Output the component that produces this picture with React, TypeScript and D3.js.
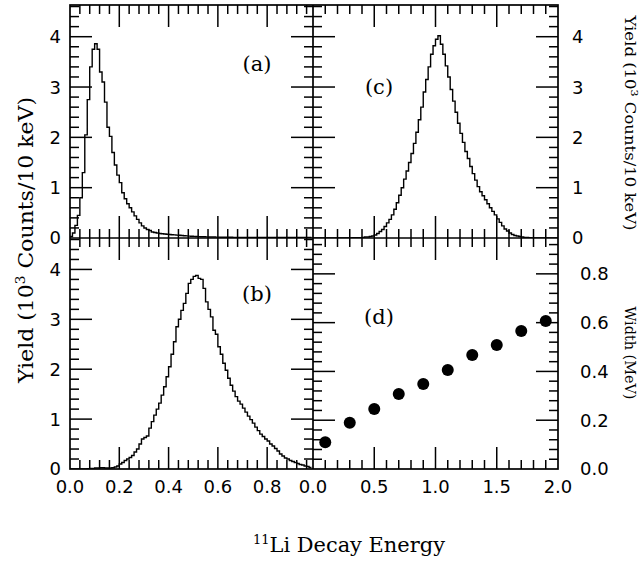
import React from "react";
import * as d3 from "d3";

// ---------- data ----------
const binWidthAB = 0.01; // MeV (10 keV bins)
const yieldA = [
  0.03, 0.1, 0.25, 0.45, 0.8, 1.3, 2.05, 2.75, 3.4, 3.75,
  3.86, 3.75, 3.3, 3.1, 2.7, 2.2, 2.02, 1.7, 1.45, 1.25,
  1.1, 0.9, 0.78, 0.68, 0.6, 0.52, 0.44, 0.37, 0.3, 0.24,
  0.2, 0.17, 0.15, 0.12, 0.11, 0.1, 0.09, 0.085, 0.08, 0.075,
  0.07, 0.066, 0.062, 0.058, 0.054, 0.05, 0.046, 0.042, 0.038, 0.035,
  0.032, 0.03, 0.028, 0.026, 0.024, 0.022, 0.021, 0.02, 0.019, 0.018,
  0.017, 0.016, 0.015, 0.015, 0.014, 0.014, 0.013, 0.013, 0.012, 0.012,
  0.011, 0.011, 0.011, 0.01, 0.01, 0.01, 0.01, 0.01, 0.01, 0.01,
  0.01, 0.01, 0.01, 0.01, 0.01, 0.01, 0.01, 0.01, 0.01, 0.01,
  0.01, 0.01, 0.01, 0.01, 0.01, 0.01, 0.01, 0.01,
];
const yieldB = [
  0.0, 0.0, 0.0, 0.0, 0.0, 0.0, 0.0, 0.005, 0.01, 0.01,
  0.02, 0.02, 0.025, 0.025, 0.02, 0.02, 0.02, 0.025,
  0.04, 0.06, 0.1, 0.13, 0.17, 0.2, 0.23, 0.27, 0.34, 0.4, 0.5, 0.6,
  0.63, 0.66, 0.82, 0.95, 1.08, 1.2, 1.32, 1.48, 1.65, 1.85, 2.05, 2.3,
  2.55, 2.85, 3.0, 3.18, 3.32, 3.52, 3.72, 3.8, 3.86, 3.88, 3.82, 3.8,
  3.62, 3.35, 3.2, 3.05, 2.78, 2.7, 2.45, 2.3, 2.12, 1.98, 1.82, 1.68,
  1.56, 1.45, 1.36, 1.3, 1.22, 1.14, 1.06, 0.99, 0.92, 0.84, 0.77, 0.7,
  0.65, 0.6, 0.56, 0.5, 0.46, 0.41, 0.36, 0.3, 0.26, 0.22, 0.2, 0.17,
  0.15, 0.13, 0.11, 0.09, 0.08, 0.06, 0.05, 0.03,
];
const binWidthC = 0.02;
const yieldC = [
  0, 0, 0, 0, 0, 0, 0, 0, 0, 0,
  0, 0, 0, 0, 0, 0.003, 0.004, 0.005, 0.006, 0.008,
  0.01, 0.02, 0.02, 0.03, 0.04, 0.06, 0.09, 0.13, 0.17, 0.23,
  0.3, 0.37, 0.46, 0.57, 0.7, 0.85, 1.0, 1.17, 1.33, 1.5,
  1.68, 1.88, 2.1, 2.35, 2.6, 2.9, 3.15, 3.4, 3.65, 3.82,
  3.95, 4.02, 3.85, 3.65, 3.42, 3.2, 2.95, 2.72, 2.5, 2.28,
  2.08, 1.9, 1.72, 1.58, 1.42, 1.28, 1.15, 1.02, 0.92, 0.84,
  0.76, 0.68, 0.6, 0.53, 0.46, 0.38, 0.31, 0.24, 0.18, 0.14,
  0.1, 0.07, 0.05, 0.04, 0.03, 0.02, 0.01, 0.01, 0.005, 0.003,
  0, 0, 0, 0, 0, 0, 0, 0, 0, 0,
];
const energiesD = [0.1, 0.3, 0.5, 0.7, 0.9, 1.1, 1.3, 1.5, 1.7, 1.9];
const widthsD = [0.11, 0.19, 0.246, 0.307, 0.348, 0.406, 0.467, 0.508, 0.566, 0.607];

const yieldTicks = [0, 1, 2, 3, 4];
const xTicksAB = [0.0, 0.2, 0.4, 0.6, 0.8];
const xTicksCD = [0.0, 0.5, 1.0, 1.5, 2.0];
const widthTicks = [0.0, 0.2, 0.4, 0.6, 0.8];

// ---------- layout ----------
const X0 = 70, XM = 313, X1 = 558;
const Y0 = 5, YM = 238, Y1 = 469;
const MAJ = 22, MIN = 9;
const TICK_FONT = "'DejaVu Sans', sans-serif";
const TITLE_FONT = "'DejaVu Serif', serif";

const xAB = d3.scaleLinear().domain([0, 0.986]).range([X0, XM]);
const xCD = d3.scaleLinear().domain([0, 2]).range([XM, X1]);
const yTop = d3.scaleLinear().domain([0, 4.63]).range([YM, Y0]);
const yBot = d3.scaleLinear().domain([0, 4.63]).range([Y1, YM]);
const yW = d3.scaleLinear().domain([0, 0.947]).range([Y1, YM]);

const steps = (step: number, max: number) =>
  d3.range(1, Math.floor(max / step + 1e-6) + 1).map((i) => +(i * step).toFixed(4));

function histPath(values: number[], bw: number, x: any, y: any) {
  const pts: [number, number][] = values.map((v, i) => [i * bw, v]);
  pts.push([values.length * bw, values[values.length - 1]]);
  return d3
    .line<[number, number]>()
    .x((d) => x(d[0]))
    .y((d) => y(d[1]))
    .curve(d3.curveStepAfter)(pts) as string;
}

type PanelTicks = {
  x: any; y: any;
  xMaj: number[]; xMin: number[];
  yMaj: number[]; yMin: number[];
  left: number; right: number; top: number; bottom: number;
};

function Ticks({ x, y, xMaj, xMin, yMaj, yMin, left, right, top, bottom }: PanelTicks) {
  const lines: JSX.Element[] = [];
  const xs = [...xMaj.map((v) => [v, MAJ]), ...xMin.map((v) => [v, MIN])];
  const ys = [...yMaj.map((v) => [v, MAJ]), ...yMin.map((v) => [v, MIN])];
  xs.forEach(([v, L], i) => {
    const px = x(v);
    if (px <= left + 0.5 || px >= right - 0.5) return;
    lines.push(<line key={"xb" + i} x1={px} x2={px} y1={bottom} y2={bottom - L} />);
    lines.push(<line key={"xt" + i} x1={px} x2={px} y1={top} y2={top + L} />);
  });
  ys.forEach(([v, L], i) => {
    const py = y(v);
    if (py <= top + 0.5 || py >= bottom - 0.5) return;
    lines.push(<line key={"yl" + i} x1={left} x2={left + L} y1={py} y2={py} />);
    lines.push(<line key={"yr" + i} x1={right} x2={right - L} y1={py} y2={py} />);
  });
  return <g stroke="#000" strokeWidth={1.5}>{lines}</g>;
}

export default function App() {
  const yMinor = steps(0.2, 4.6).filter((v) => Math.abs(v - Math.round(v)) > 1e-6);
  const xMinorAB = steps(0.04, 0.96).filter((v) => Math.abs(v / 0.2 - Math.round(v / 0.2)) > 1e-6);
  const xMinorCD = steps(0.1, 1.9).filter((v) => Math.abs(v / 0.5 - Math.round(v / 0.5)) > 1e-6);
  const wMinor = steps(0.04, 0.92).filter((v) => Math.abs(v / 0.2 - Math.round(v / 0.2)) > 1e-6);

  return (
    <svg width={640} height={565} style={{ position: "absolute", left: 0, top: 0, background: "#fff" }}>
      <defs>
        <clipPath id="clipA"><rect x={X0} y={Y0} width={XM - X0} height={YM - Y0} /></clipPath>
        <clipPath id="clipB"><rect x={X0} y={YM} width={XM - X0} height={Y1 - YM} /></clipPath>
        <clipPath id="clipC"><rect x={XM} y={Y0} width={X1 - XM} height={YM - Y0} /></clipPath>
      </defs>
      <rect x={0} y={0} width={640} height={565} fill="#fff" />

      {/* histograms */}
      <g fill="none" stroke="#000" strokeWidth={1.4}>
        <path d={histPath(yieldA, binWidthAB, xAB, yTop)} clipPath="url(#clipA)" />
        <path d={histPath(yieldB, binWidthAB, xAB, yBot)} clipPath="url(#clipB)" />
        <path d={histPath(yieldC, binWidthC, xCD, yTop)} clipPath="url(#clipC)" />
      </g>

      {/* widths */}
      <g fill="#000">
        {energiesD.map((e, i) => (
          <circle key={i} cx={xCD(e)} cy={yW(widthsD[i])} r={6} />
        ))}
      </g>

      {/* ticks */}
      <Ticks x={xAB} y={yTop} xMaj={xTicksAB} xMin={xMinorAB} yMaj={yieldTicks} yMin={yMinor}
        left={X0} right={XM} top={Y0} bottom={YM} />
      <Ticks x={xAB} y={yBot} xMaj={xTicksAB} xMin={xMinorAB} yMaj={yieldTicks} yMin={yMinor}
        left={X0} right={XM} top={YM} bottom={Y1} />
      <Ticks x={xCD} y={yTop} xMaj={xTicksCD} xMin={xMinorCD} yMaj={yieldTicks} yMin={yMinor}
        left={XM} right={X1} top={Y0} bottom={YM} />
      <Ticks x={xCD} y={yW} xMaj={xTicksCD} xMin={xMinorCD} yMaj={widthTicks} yMin={wMinor}
        left={XM} right={X1} top={YM} bottom={Y1} />

      {/* frames */}
      <g fill="none" stroke="#000" strokeWidth={1.7}>
        <rect x={X0} y={Y0} width={X1 - X0} height={Y1 - Y0} />
        <line x1={X0} x2={X1} y1={YM} y2={YM} />
        <line x1={XM} x2={XM} y1={Y0} y2={Y1} />
      </g>

      {/* tick labels */}
      <g fontFamily={TICK_FONT} fontSize={18} fill="#000">
        {yieldTicks.map((v) => (
          <text key={"la" + v} x={61} y={yTop(v)} dy="0.36em" textAnchor="end">{v}</text>
        ))}
        {yieldTicks.map((v) => (
          <text key={"lb" + v} x={61} y={yBot(v)} dy="0.36em" textAnchor="end">{v}</text>
        ))}
        {yieldTicks.map((v) => (
          <text key={"rc" + v} x={572} y={yTop(v)} dy="0.36em" textAnchor="start">{v}</text>
        ))}
        {widthTicks.map((v) => (
          <text key={"rd" + v} x={580} y={yW(v)} dy="0.36em" textAnchor="start">{v.toFixed(1)}</text>
        ))}
        {xTicksAB.map((v) => (
          <text key={"bb" + v} x={xAB(v)} y={493} textAnchor="middle">{v.toFixed(1)}</text>
        ))}
        {xTicksCD.map((v) => (
          <text key={"bd" + v} x={xCD(v)} y={493} textAnchor="middle">{v.toFixed(1)}</text>
        ))}
      </g>

      {/* panel labels */}
      <g fontFamily={TITLE_FONT} fontSize={21} fill="#000" textAnchor="middle">
        <text x={257} y={71}>(a)</text>
        <text x={379} y={94}>(c)</text>
        <text x={257} y={301}>(b)</text>
        <text x={379} y={324}>(d)</text>
      </g>

      {/* axis titles */}
      <text transform="translate(33,240) rotate(-90)" textAnchor="middle" fontFamily={TITLE_FONT}
        fontSize={21} textLength={286} lengthAdjust="spacingAndGlyphs">
        Yield (10<tspan dy={-8} fontSize={13}>3</tspan><tspan dy={8}> Counts/10 keV)</tspan>
      </text>
      <text transform="translate(625,123) rotate(90)" textAnchor="middle" fontFamily={TITLE_FONT}
        fontSize={15} textLength={215} lengthAdjust="spacingAndGlyphs">
        Yield (10<tspan dy={-6} fontSize={10}>3</tspan><tspan dy={6}> Counts/10 keV)</tspan>
      </text>
      <text transform="translate(625,353) rotate(90)" textAnchor="middle" fontFamily={TITLE_FONT}
        fontSize={15} textLength={93} lengthAdjust="spacingAndGlyphs">
        Width (MeV)
      </text>
      <text x={349} y={552} textAnchor="middle" fontFamily={TITLE_FONT} fontSize={21}
        textLength={192} lengthAdjust="spacingAndGlyphs">
        <tspan dy={-8} fontSize={13}>11</tspan><tspan dy={8}>Li Decay Energy</tspan>
      </text>
    </svg>
  );
}
